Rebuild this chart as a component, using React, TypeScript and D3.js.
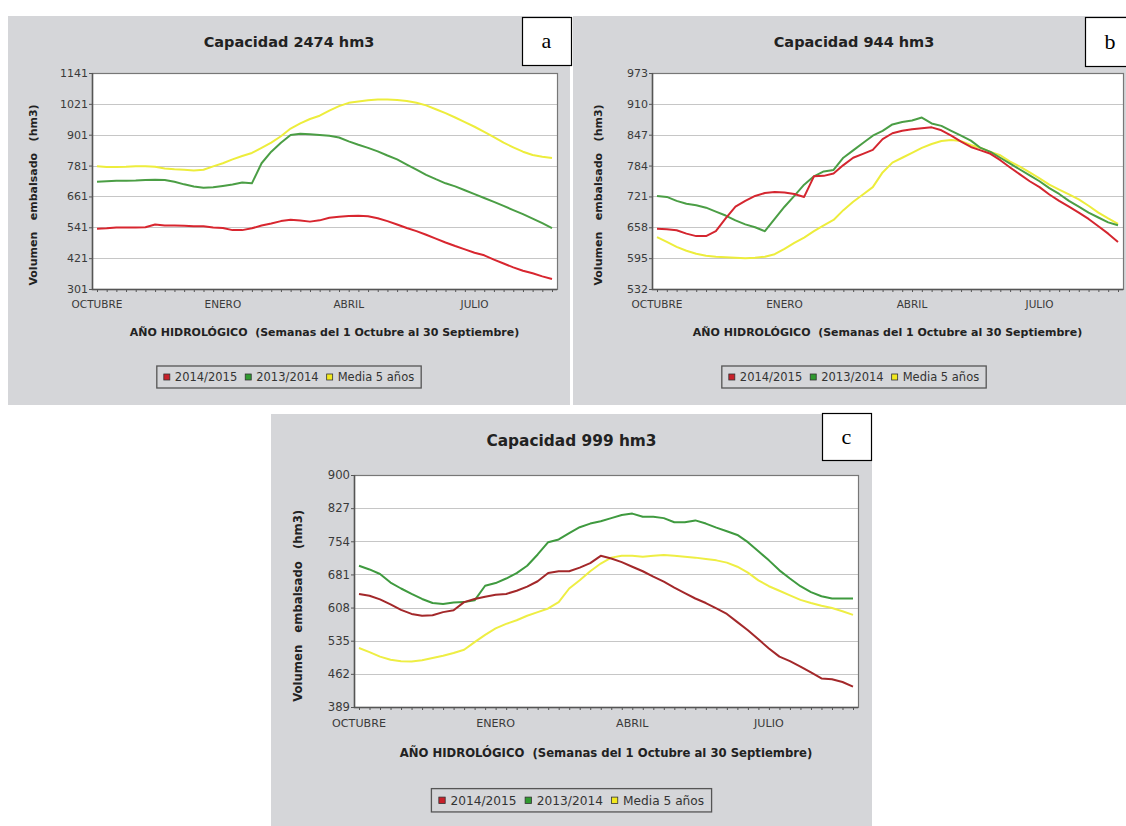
import React, { useEffect, useRef } from "react";
import * as d3 from "d3";

const W = 1126;
const H = 826;

const monthLabels = ["OCTUBRE", "ENERO", "ABRIL", "JULIO"];
const monthWeeks = [0, 13, 26, 39];
const seriesNames = ["2014/2015", "2013/2014", "Media 5 años"];

// panel a - Capacidad 2474 hm3
const aTicks = [301, 421, 541, 661, 781, 901, 1021, 1141];
const aRed = [535, 537, 540, 540, 540, 541, 552, 548, 548, 547, 545, 545, 540, 538, 530, 530, 537, 548, 556, 565, 570, 567, 563, 568, 578, 582, 585, 586, 584, 576, 565, 552, 538, 526, 512, 497, 482, 468, 455, 442, 432, 415, 400, 385, 372, 362, 350, 340];
const aGreen = [718, 720, 722, 722, 723, 725, 726, 725, 718, 708, 700, 695, 697, 702, 707, 715, 712, 790, 835, 870, 900, 905, 903, 900, 897, 890, 875, 862, 850, 836, 820, 805, 785, 765, 745, 728, 712, 700, 685, 670, 655, 640, 624, 608, 592, 575, 557, 538];
const aYellow = [778, 775, 775, 776, 778, 778, 776, 770, 767, 765, 762, 765, 778, 790, 805, 818, 830, 850, 870, 895, 925, 945, 962, 975, 995, 1012, 1025, 1030, 1035, 1038, 1038, 1036, 1032, 1025, 1015, 1000, 985, 968, 950, 932, 912, 892, 870, 852, 835, 822, 815, 810];

// panel b - Capacidad 944 hm3
const bTicks = [532, 595, 658, 721, 784, 847, 910, 973];
const bRed = [655, 654, 652, 645, 640, 640, 650, 676, 700, 712, 722, 728, 730, 729, 726, 720, 762, 763, 768, 785, 800, 808, 816, 838, 850, 855, 858, 860, 862, 856, 845, 833, 822, 815, 808, 795, 780, 766, 752, 740, 725, 712, 700, 688, 675, 660, 645, 628];
const bGreen = [722, 720, 712, 706, 703, 698, 690, 682, 672, 664, 658, 650, 675, 700, 722, 745, 762, 772, 775, 800, 815, 830, 845, 855, 868, 873, 876, 882, 870, 865, 855, 845, 835, 820, 812, 800, 788, 776, 764, 752, 738, 726, 712, 700, 688, 678, 668, 662];
const bYellow = [638, 628, 618, 610, 604, 600, 598, 597, 596, 595, 596, 598, 603, 614, 626, 637, 650, 662, 673, 693, 710, 725, 740, 770, 790, 800, 810, 820, 828, 834, 836, 834, 826, 820, 812, 805, 792, 782, 770, 758, 745, 735, 725, 715, 702, 688, 676, 665];

// panel c - Capacidad 999 hm3
const cTicks = [389, 462, 535, 608, 681, 754, 827, 900];
const cRed = [638, 634, 626, 615, 603, 594, 590, 591, 598, 602, 620, 627, 632, 636, 638, 645, 654, 666, 684, 688, 688, 696, 706, 722, 716, 708, 698, 688, 676, 665, 652, 640, 628, 618, 606, 594, 576, 558, 538, 518, 500, 490, 478, 465, 452, 450, 444, 434];
const cGreen = [700, 692, 682, 663, 650, 638, 627, 618, 616, 619, 620, 624, 656, 662, 672, 684, 700, 725, 752, 758, 772, 785, 793, 798, 805, 812, 815, 808, 808, 805, 796, 796, 800, 793, 784, 776, 768, 752, 732, 712, 690, 672, 655, 642, 633, 628, 628, 628];
const cYellow = [519, 510, 500, 493, 490, 489, 492, 497, 502, 508, 515, 532, 548, 562, 572, 580, 590, 598, 606, 620, 650, 668, 688, 705, 718, 722, 722, 720, 722, 724, 722, 720, 718, 715, 712, 707, 698, 685, 668, 655, 645, 635, 625, 618, 612, 607, 600, 592];

const FONT = "'DejaVu Sans', sans-serif";

const panels = [
  {
    title: "Capacidad 2474 hm3",
    box: { x: 8, y: 16, w: 562, h: 389 },
    plot: { left: 92, top: 73, right: 557, bottom: 289 },
    ticks: aTicks,
    series: [aRed, aGreen, aYellow],
    colors: ["#d8262f", "#4b9e45", "#eded3c"],
    titleY: 47,
    fs: 1,
    letter: { x: 522, y: 17, w: 49, h: 48, t: "a" },
  },
  {
    title: "Capacidad 944 hm3",
    box: { x: 573, y: 16, w: 562, h: 389 },
    plot: { left: 652, top: 73, right: 1123, bottom: 289 },
    ticks: bTicks,
    series: [bRed, bGreen, bYellow],
    colors: ["#d4262f", "#4b9e45", "#eded3c"],
    titleY: 47,
    fs: 1,
    letter: { x: 1085, y: 17, w: 50, h: 49, t: "b" },
  },
  {
    title: "Capacidad 999 hm3",
    box: { x: 271, y: 414, w: 601, h: 412 },
    plot: { left: 354, top: 475, right: 858, bottom: 707 },
    ticks: cTicks,
    series: [cRed, cGreen, cYellow],
    colors: ["#a3282a", "#3f9a3f", "#eeee44"],
    titleY: 446,
    fs: 1.06,
    letter: { x: 822, y: 413, w: 49, h: 47, t: "c" },
  },
];

const legendColors = ["#c8202a", "#2f9a2f", "#f2e81e"];

function Panel({ cfg }) {
  const ref = useRef(null);

  useEffect(() => {
    const g = d3.select(ref.current);
    g.selectAll("*").remove();
    const s = cfg.fs;
    const b = cfg.box;
    const p = cfg.plot;
    const cx = b.x + b.w / 2;

    g.append("rect")
      .attr("x", b.x)
      .attr("y", b.y)
      .attr("width", b.w)
      .attr("height", b.h)
      .attr("fill", "#d5d6d9");

    const n = cfg.series[0].length;
    const xScale = d3
      .scaleLinear()
      .domain([0, n - 1])
      .range([p.left + 5, p.right - 5]);
    const yScale = d3
      .scaleLinear()
      .domain([cfg.ticks[0], cfg.ticks[cfg.ticks.length - 1]])
      .range([p.bottom, p.top]);

    // plot background
    g.append("rect")
      .attr("x", p.left)
      .attr("y", p.top)
      .attr("width", p.right - p.left)
      .attr("height", p.bottom - p.top)
      .attr("fill", "#ffffff");

    // horizontal gridlines
    g.selectAll(".grid")
      .data(cfg.ticks.slice(1, -1))
      .join("line")
      .attr("class", "grid")
      .attr("x1", p.left)
      .attr("x2", p.right)
      .attr("y1", (d) => Math.round(yScale(d)) + 0.5)
      .attr("y2", (d) => Math.round(yScale(d)) + 0.5)
      .attr("stroke", "#c6c6c6")
      .attr("stroke-width", 1.2);

    // y axis
    const yAxis = d3
      .axisLeft(yScale)
      .tickValues(cfg.ticks)
      .tickSize(3)
      .tickPadding(1)
      .tickFormat(d3.format("d"));
    const ya = g
      .append("g")
      .attr("transform", `translate(${p.left},0)`)
      .call(yAxis);
    ya.select(".domain").remove();
    ya.selectAll("line").attr("stroke", "#555");
    ya.selectAll("text")
      .attr("font-family", FONT)
      .attr("font-size", 11 * s)
      .attr("fill", "#3a3a3a");

    // x axis: one tick per week
    const xAxis = d3
      .axisBottom(xScale)
      .tickValues(cfg.series[0].map((_, i) => i))
      .tickSize(3)
      .tickFormat(() => "");
    const xa = g
      .append("g")
      .attr("transform", `translate(0,${p.bottom})`)
      .call(xAxis);
    xa.select(".domain").remove();
    xa.selectAll("line").attr("stroke", "#555");

    // month labels
    g.selectAll(".month")
      .data(monthLabels)
      .join("text")
      .attr("class", "month")
      .attr("x", (d, i) => xScale(monthWeeks[i]))
      .attr("y", p.bottom + 19 * s)
      .attr("text-anchor", "middle")
      .attr("font-family", FONT)
      .attr("font-size", 10.5 * s)
      .attr("fill", "#3a3a3a")
      .text((d) => d);

    // plot frame
    g.append("rect")
      .attr("x", p.left + 0.5)
      .attr("y", p.top + 0.5)
      .attr("width", p.right - p.left)
      .attr("height", p.bottom - p.top)
      .attr("fill", "none")
      .attr("stroke", "#777")
      .attr("stroke-width", 1.2);
    g.append("path")
      .attr("d", `M${p.left + 0.5},${p.top}V${p.bottom + 0.5}H${p.right}`)
      .attr("fill", "none")
      .attr("stroke", "#555")
      .attr("stroke-width", 1.5);

    // series lines, yellow first so red/green stay visible
    const line = d3
      .line()
      .x((d, i) => xScale(i))
      .y((d) => yScale(d));
    [2, 1, 0].forEach((k) => {
      g.append("path")
        .datum(cfg.series[k])
        .attr("d", line)
        .attr("fill", "none")
        .attr("stroke", cfg.colors[k])
        .attr("stroke-width", 2)
        .attr("stroke-linejoin", "round");
    });

    // title
    g.append("text")
      .attr("x", cx)
      .attr("y", cfg.titleY)
      .attr("text-anchor", "middle")
      .attr("font-family", FONT)
      .attr("font-weight", "bold")
      .attr("font-size", 14.5 * s)
      .attr("fill", "#222")
      .text(cfg.title);

    // y label
    const ly = (p.top + p.bottom) / 2 + 14 * s;
    g.append("text")
      .attr("transform", `translate(${b.x + 29 * s},${ly}) rotate(-90)`)
      .attr("text-anchor", "middle")
      .attr("font-family", FONT)
      .attr("font-weight", "bold")
      .attr("font-size", 11 * s)
      .attr("fill", "#222")
      .style("white-space", "pre")
      .text("Volumen   embalsado   (hm3)");

    // x label
    g.append("text")
      .attr("x", (p.left + p.right) / 2)
      .attr("y", p.bottom + 47 * s)
      .attr("text-anchor", "middle")
      .attr("font-family", FONT)
      .attr("font-weight", "bold")
      .attr("font-size", 11 * s)
      .attr("fill", "#222")
      .style("white-space", "pre")
      .text("AÑO HIDROLÓGICO  (Semanas del 1 Octubre al 30 Septiembre)");

    // legend
    const lg = g.append("g");
    const ltop = p.bottom + 77 * s;
    const lh = 22 * s;
    const frame = lg.append("rect");
    let cur = 0;
    const items = seriesNames.map((name, i) => {
      const sq = lg
        .append("rect")
        .attr("width", 6 * s)
        .attr("height", 6 * s)
        .attr("fill", legendColors[i])
        .attr("stroke", "#333")
        .attr("stroke-width", 0.8);
      const tx = lg
        .append("text")
        .attr("font-family", FONT)
        .attr("font-size", 11.5 * s)
        .attr("fill", "#333")
        .text(name);
      const tw = tx.node().getComputedTextLength();
      const start = cur;
      cur += 6 * s + 5 * s + tw + 8 * s;
      return { sq, tx, start };
    });
    const lw = cur - 8 * s + 14 * s;
    const lx = cx - lw / 2;
    frame
      .attr("x", lx)
      .attr("y", ltop)
      .attr("width", lw)
      .attr("height", lh)
      .attr("fill", "#d5d6d9")
      .attr("stroke", "#555")
      .attr("stroke-width", 1.3);
    items.forEach((it) => {
      it.sq.attr("x", lx + 7 * s + it.start).attr("y", ltop + lh / 2 - 3 * s);
      it.tx
        .attr("x", lx + 7 * s + it.start + 11 * s)
        .attr("y", ltop + lh / 2 + 4 * s);
    });

    // panel letter box
    const L = cfg.letter;
    g.append("rect")
      .attr("x", L.x + 0.5)
      .attr("y", L.y + 0.5)
      .attr("width", L.w)
      .attr("height", L.h)
      .attr("fill", "#fff")
      .attr("stroke", "#000")
      .attr("stroke-width", 1.2);
    g.append("text")
      .attr("x", L.x + L.w / 2)
      .attr("y", L.y + L.h / 2 + 7)
      .attr("text-anchor", "middle")
      .attr("font-family", "'Liberation Serif', serif")
      .attr("font-size", 22)
      .attr("fill", "#000")
      .text(L.t);
  }, [cfg]);

  return <g ref={ref} />;
}

export default function App() {
  return (
    <div style={{ position: "absolute", left: 0, top: 0 }}>
      <svg width={W} height={H} style={{ display: "block", background: "#fff" }}>
        {panels.map((cfg, i) => (
          <Panel key={i} cfg={cfg} />
        ))}
      </svg>
    </div>
  );
}
